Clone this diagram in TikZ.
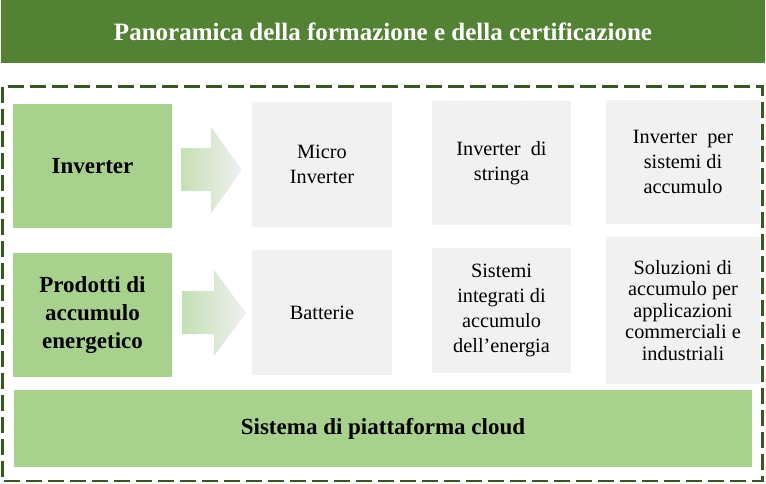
\documentclass[tikz,border=0pt]{standalone}
\usepackage{fontspec}
\setmainfont{Liberation Serif}
\definecolor{hdr}{HTML}{548235}
\definecolor{dashc}{HTML}{385723}
\definecolor{lgreen}{HTML}{A9D18E}
\definecolor{lgrey}{HTML}{F1F1F1}
\definecolor{arrL}{HTML}{C5E0B4}
\definecolor{arrR}{HTML}{F0F0F0}
\tikzset{
  catbox/.style={fill=lgreen, draw=none, inner sep=0pt, align=center,
    font=\fontsize{23}{27.7}\selectfont\bfseries},
  itembox/.style={fill=lgrey, draw=none, inner sep=0pt, align=center,
    font=\fontsize{20.3}{25}\selectfont},
  itemboxtight/.style={itembox, font=\fontsize{20.3}{21.5}\selectfont},
  bigarrow/.style={draw=none, left color=arrL, right color=arrR},
}
\begin{document}
\begin{tikzpicture}[x=1pt,y=-1pt]
\useasboundingbox (0,0) rectangle (766,483);
% header
\node[fill=hdr, inner sep=0pt, minimum width=764pt, minimum height=63pt,
  text=white, font=\fontsize{25}{28}\selectfont\bfseries] (title) at (383,31.5)
  {Panoramica della formazione e della certificazione};
% dashed frame
\draw[dashc, line width=2.6pt, dash pattern=on 16pt off 6pt] (2.5,86.5) rectangle (762.5,481);
% category boxes
\node[catbox, minimum width=159pt, minimum height=124pt] (inv) at (92.5,166) {Inverter};
\node[catbox, minimum width=159pt, minimum height=124pt] (acc) at (92.5,315) {Prodotti di\\accumulo\\energetico};
% arrows
\path[bigarrow] (181,148) -- (211,148) -- (211,127) -- (242,170) -- (211,213) -- (211,191) -- (181,191) -- cycle;
\path[bigarrow] (182,291) -- (214,291) -- (214,270) -- (246,313) -- (214,356) -- (214,334) -- (182,334) -- cycle;
% items row 1
\node[itembox, minimum width=140pt, minimum height=125pt] (micro) at (322,164.5) {Micro\\Inverter};
\node[itembox, minimum width=139pt, minimum height=124pt] (str) at (501.5,163) {Inverter\ \ di\\stringa};
\node[itembox, minimum width=154pt, minimum height=124pt] (invacc) at (683,162) {Inverter\ \ per\\sistemi di\\accumulo};
% items row 2
\node[itembox, minimum width=140pt, minimum height=125pt] (batt) at (322,312.5) {Batterie};
\node[itembox, minimum width=139pt, minimum height=125pt] (sist) at (501.5,310.5) {Sistemi\\integrati di\\accumulo\\dell’energia};
\node[itemboxtight, minimum width=154pt, minimum height=147pt] (sol) at (683,310.5) {Soluzioni di\\accumulo per\\applicazioni\\commerciali e\\industriali};
% cloud
\node[catbox, minimum width=738pt, minimum height=77pt] (cloud) at (383,428.5) {Sistema di piattaforma cloud};
\end{tikzpicture}
\end{document}
